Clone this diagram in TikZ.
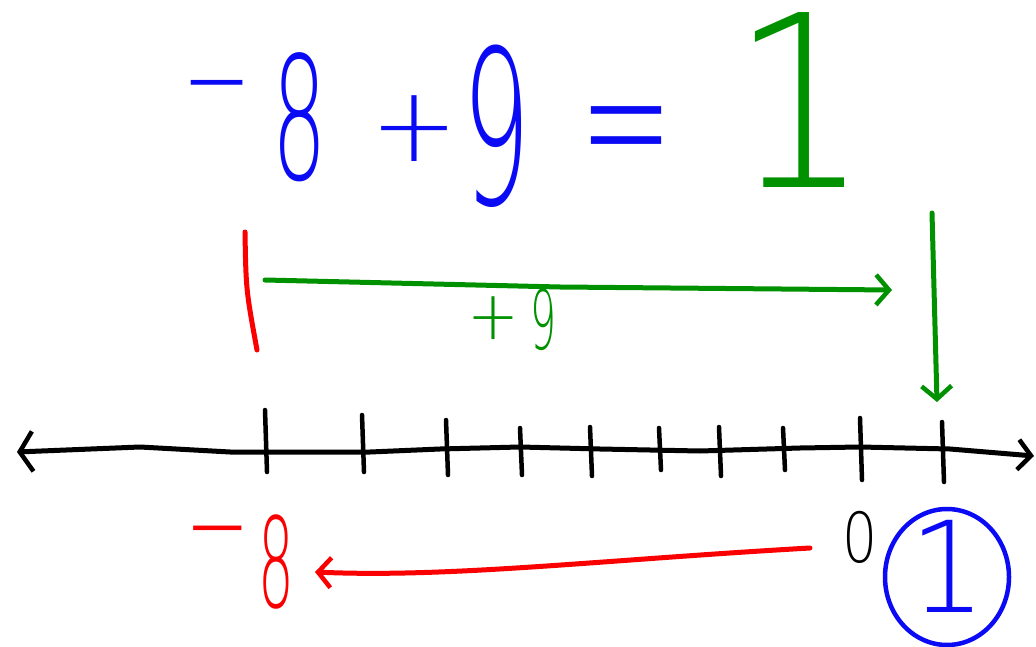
\documentclass[tikz,border=0pt]{standalone}
\usepackage{fontspec}
\usepackage{graphicx}
\newfontfamily\handfont{DejaVuSans-ExtraLight.ttf}
\usetikzlibrary{arrows.meta,shapes.geometric}
\definecolor{hblue}{RGB}{10,10,245}
\definecolor{hgreen}{RGB}{0,145,0}
\definecolor{hred}{RGB}{250,0,0}
\newcommand\glyph[4]{\scalebox{#1}[#2]{\handfont\fontsize{#3}{#3}\selectfont #4}}
\begin{document}
\begin{tikzpicture}[x=1pt,y=-1pt,line cap=round,line join=round,
  txt/.style={inner sep=0pt,outer sep=0pt},
  pen/.style={line width=5pt},
  tickmark/.style={black,line width=4.5pt},
  barb/.style={-{Straight Barb[length=13pt,width=30pt,line width=4.5pt]}},
  dbarb/.style={{Straight Barb[length=13pt,width=40pt,line width=4.5pt]}-{Straight Barb[length=13pt,width=30pt,line width=4.5pt]}}]
\useasboundingbox[fill=white] (0,0) rectangle (1036,647);

% equation
\node[txt,hblue] (eqm) at (217,100) {\glyph{1.1}{1.6}{75}{−}};
\node[txt,hblue] (eq8) at (300,117) {\glyph{0.5}{1}{171}{8}};
\node[txt,hblue] (eqp) at (414,129) {\glyph{1}{1}{105}{+}};
\node[txt,hblue] (eq9) at (497,126) {\glyph{0.5}{1}{215}{9}};
\node[txt,hblue] (eqe) at (626,146) {\glyph{1.7}{2.9}{66}{=}};
\node[txt,hgreen] (eq1) at (801,100) {\glyph{1.45}{1.6}{150}{1}};

% red start marker
\coordinate (rt) at (245,232);
\coordinate (rb) at (257,350);
\draw[hred,pen] (rt) .. controls (246,290) .. (rb);

% green +9 jump
\coordinate (gs) at (265,280);
\coordinate (ge) at (892,290);
\draw[hgreen,pen,barb] (gs) -- (560,287) -- (ge);
\node[txt,hgreen] (gp) at (493,318) {\glyph{1}{1.1}{62}{+}};
\node[txt,hgreen] (g9) at (544,320) {\glyph{0.5}{1}{82}{9}};

% green drop arrow
\coordinate (gd1) at (932,213);
\coordinate (gd2) at (937,402);
\draw[hgreen,pen,barb] (gd1) -- (gd2);

% number line
\coordinate (L) at (17,452);
\coordinate (R) at (1034,456);
\draw[black,line width=5pt,dbarb] (L) -- (140,447) -- (230,452) -- (370,452)
  -- (440,449) -- (520,447) -- (600,449) -- (700,451) -- (800,448)
  -- (860,447) -- (950,449) -- (R);
\foreach \x/\t/\b in {266/410/472,363/415/472,447/420/475,521/428/475,591/427/476,
                      660/428/470,720/427/476,784/428/470,861/418/480,943/422/482}
  \draw[tickmark] (\x-1,\t) -- (\x+1,\b);

% red -8 and arrow
\node[txt,hred] (rm) at (218,545) {\glyph{1.1}{1.6}{70}{−}};
\node[txt,hred] (r8) at (276,562) {\glyph{0.45}{1}{125}{8}};
\coordinate (rs) at (810,548);
\coordinate (re) at (315,572);
\draw[hred,pen,barb] (rs) .. controls (600,560) and (450,578) .. (re);

% zero and circled one
\node[txt,black] (zero) at (860,537) {\glyph{0.8}{1}{69}{0}};
\node[txt,hblue] (one) at (948,566) {\glyph{1.1}{1.15}{110}{1}};
\node[ellipse,draw=hblue,line width=4.5pt,minimum width=124pt,minimum height=136pt,inner sep=0pt] (ring) at (947,577) {};
\end{tikzpicture}
\end{document}
